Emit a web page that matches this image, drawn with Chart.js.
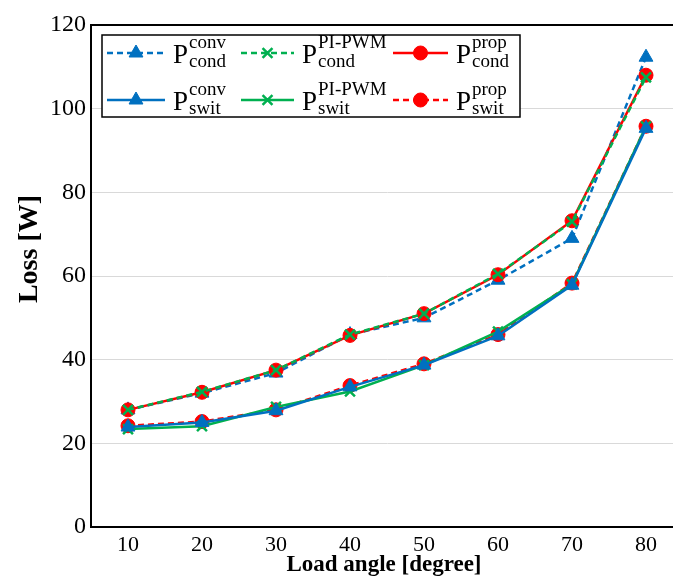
<!DOCTYPE html>
<html>
<head>
<meta charset="utf-8">
<script src="https://cdn.jsdelivr.net/npm/chart.js@4.4.1/dist/chart.umd.min.js"></script>
<style>
  body { margin: 0; background: #fff; overflow: hidden; }
  #wrap { width: 700px; height: 579px; }
</style>
</head>
<body>
<div id="wrap"><canvas id="lossChart" width="700" height="579"></canvas></div>
<script>
const loadAngles = ['10', '20', '30', '40', '50', '60', '70', '80'];
const yTicks = [0, 20, 40, 60, 80, 100, 120];

const condConv  = [28.0, 32.0, 36.8, 46.0, 50.0, 59.0, 69.0, 112.3];
const condPI    = [28.0, 32.3, 37.5, 46.0, 51.0, 60.5, 73.0, 107.5];
const condProp  = [28.0, 32.2, 37.5, 45.8, 51.0, 60.3, 73.2, 108.0];
const switConv  = [23.9, 25.0, 27.8, 33.5, 38.7, 45.7, 57.8, 95.3];
const switPI    = [23.4, 24.1, 28.7, 32.4, 38.7, 46.7, 58.0, 95.8];
const switProp  = [24.2, 25.2, 28.0, 33.8, 39.0, 46.0, 58.3, 95.8];

const methods = ['conv', 'PI-PWM', 'prop'];
const kinds = ['cond', 'swit'];

const BLUE = '#0070C0', GREEN = '#00B050', RED = '#FF0000';
const serif = '"Liberation Serif", "DejaVu Serif", serif';

function ds(label, data, color, dashed, style, radius, order) {
    return {
        label: label,
        data: data,
        borderColor: color,
        backgroundColor: color,
        borderWidth: 2.5,
        borderDash: dashed ? [6, 4] : [],
        pointStyle: style,
        pointRadius: radius,
        pointHoverRadius: radius,
        pointBorderWidth: style === 'crossRot' ? 2.5 : 1,
        pointBorderColor: color,
        pointBackgroundColor: color,
        tension: 0,
        fill: false,
        order: order
    };
}

const datasets = [
    ds('cond conv', condConv, BLUE, true, 'triangle', 8, 4),
    ds('cond PI-PWM', condPI, GREEN, true, 'crossRot', 7, 1),
    ds('cond prop', condProp, RED, false, 'circle', 7, 3),
    ds('swit conv', switConv, BLUE, false, 'triangle', 8, 0),
    ds('swit PI-PWM', switPI, GREEN, false, 'crossRot', 7, 2),
    ds('swit prop', switProp, RED, true, 'circle', 7, 3)
];

// legend with sub/superscripts, frame top line and axis titles
const decor = {
    id: 'decor',
    afterDraw(chart) {
        const c = chart.ctx;
        const a = chart.chartArea;
        c.save();
        // top frame line
        c.strokeStyle = '#000';
        c.lineWidth = 2;
        c.beginPath();
        c.moveTo(a.left - 1, a.top);
        c.lineTo(chart.width, a.top);
        c.stroke();

        // axis titles
        c.fillStyle = '#000';
        c.textAlign = 'center';
        c.textBaseline = 'middle';
        c.font = 'bold 23px ' + serif;
        c.fillText('Load angle [degree]', 384, 565);
        c.save();
        c.translate(30, 249);
        c.rotate(-Math.PI / 2);
        c.font = 'bold 28px ' + serif;
        c.fillText('Loss [W]', 0, 0);
        c.restore();

        // legend box
        const bx = a.left + 11, by = a.top + 10, bw = 418, bh = 82;
        c.fillStyle = '#fff';
        c.fillRect(bx, by, bw, bh);
        c.strokeStyle = '#000';
        c.lineWidth = 1.5;
        c.strokeRect(bx, by, bw, bh);

        const colX = [bx + 5, bx + 139, bx + 291];
        const lineW = [58, 53, 55];
        const rowY = [by + 18, by + 65];
        kinds.forEach((k, r) => {
            methods.forEach((m, col) => {
                const d = datasets[r * 3 + col];
                const x0 = colX[col], y = rowY[r];
                c.strokeStyle = d.borderColor;
                c.lineWidth = 2.5;
                c.setLineDash(d.borderDash);
                c.beginPath();
                c.moveTo(x0, y);
                c.lineTo(x0 + lineW[col], y);
                c.stroke();
                c.setLineDash([]);
                c.fillStyle = d.borderColor;
                c.strokeStyle = d.borderColor;
                c.lineWidth = d.pointBorderWidth;
                Chart.helpers.drawPoint(c, {
                    pointStyle: d.pointStyle,
                    radius: d.pointRadius,
                    borderWidth: d.pointBorderWidth,
                    rotation: 0
                }, x0 + lineW[col] / 2, y);

                const tx = x0 + lineW[col] + 8;
                c.fillStyle = '#000';
                c.textAlign = 'left';
                c.textBaseline = 'alphabetic';
                c.font = '27px ' + serif;
                c.fillText('P', tx, y + 10);
                c.font = '19px ' + serif;
                c.fillText(m, tx + 16, y - 5);
                c.fillText(k, tx + 16, y + 14);
            });
        });
        c.restore();
    }
};

new Chart(document.getElementById('lossChart').getContext('2d'), {
    type: 'line',
    data: { labels: loadAngles, datasets: datasets },
    options: {
        responsive: false,
        animation: false,
        layout: { padding: { top: 25, right: 17, left: 0, bottom: 0 } },
        scales: {
            x: {
                type: 'category',
                offset: true,
                afterFit: (s) => { s.height = 52; },
                grid: { display: false, drawTicks: false },
                border: { color: '#000', width: 2 },
                ticks: { color: '#000', padding: 5, font: { family: serif, size: 22 } }
            },
            y: {
                min: 0,
                max: 120,
                afterFit: (s) => { s.width = 91; },
                afterBuildTicks: (s) => { s.ticks = yTicks.map(v => ({ value: v })); },
                grid: { color: '#d9d9d9', lineWidth: 1, drawTicks: false },
                border: { color: '#000', width: 2 },
                ticks: { color: '#000', padding: 5, font: { family: serif, size: 24 } }
            }
        },
        plugins: {
            legend: { display: false },
            tooltip: { enabled: false }
        }
    },
    plugins: [decor]
});
</script>
</body>
</html>
